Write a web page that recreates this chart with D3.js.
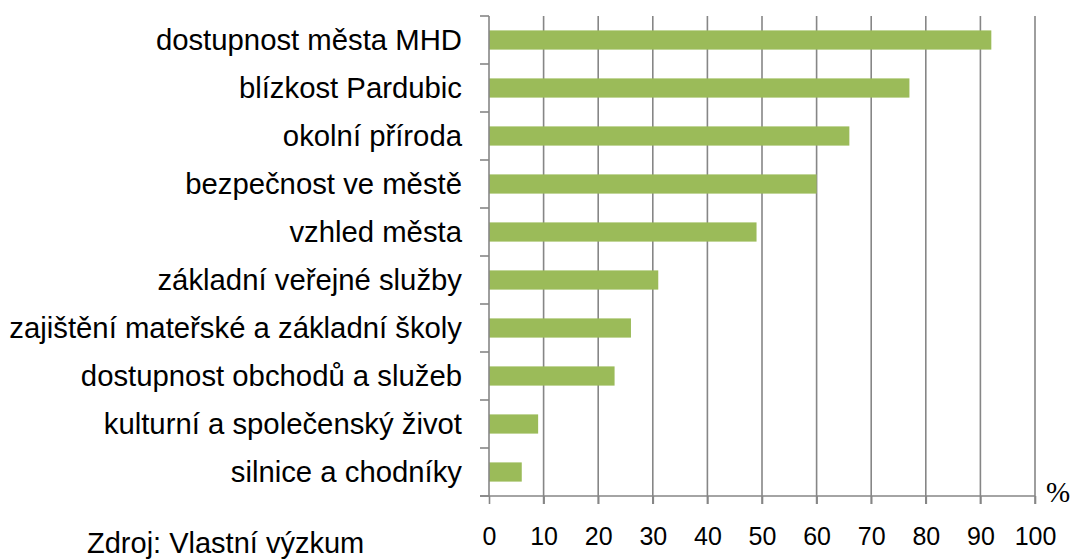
<!DOCTYPE html>
<html>
<head>
<meta charset="utf-8">
<script src="https://cdn.jsdelivr.net/npm/d3@7"></script>
<style>
  body { margin: 0; background: #fff; }
  svg { display: block; }
</style>
</head>
<body>
<div id="chart"></div>
<script>
// Chart data
var categories = [
  "dostupnost města MHD",
  "blízkost Pardubic",
  "okolní příroda",
  "bezpečnost ve městě",
  "vzhled města",
  "základní veřejné služby",
  "zajištění mateřské a základní školy",
  "dostupnost obchodů a služeb",
  "kulturní a společenský život",
  "silnice a chodníky"
];
var values = [92, 77, 66, 60, 49, 31, 26, 23, 9, 6];
var xTicks = [0, 10, 20, 30, 40, 50, 60, 70, 80, 90, 100];

var svgWidth = 1071;
var svgHeight = 559;

var margin = { top: 16, right: 36, bottom: 63, left: 489 };
var chartWidth = svgWidth - margin.left - margin.right;
var chartHeight = svgHeight - margin.top - margin.bottom;

var svg = d3.select("#chart")
  .append("svg")
  .attr("width", svgWidth)
  .attr("height", svgHeight);

var chartGroup = svg.append("g")
  .attr("transform", `translate(${margin.left}, ${margin.top})`);

var xScale = d3.scaleLinear()
  .domain([0, 100])
  .range([0, chartWidth]);

var yScale = d3.scaleBand()
  .domain(categories)
  .range([0, chartHeight])
  .paddingInner(0.6)
  .paddingOuter(0.3);

var axisColor = "#868686";
var sans = "Liberation Sans, Arial, sans-serif";

// vertical gridlines
chartGroup.append("g")
  .selectAll("line")
  .data(xTicks.slice(1))
  .enter()
  .append("line")
  .attr("x1", d => xScale(d))
  .attr("x2", d => xScale(d))
  .attr("y1", 0)
  .attr("y2", chartHeight + 8)
  .attr("stroke", axisColor)
  .attr("stroke-width", 1.6);

// bars
chartGroup.append("g")
  .selectAll("rect")
  .data(values)
  .enter()
  .append("rect")
  .attr("x", 0)
  .attr("y", (d, i) => yScale(categories[i]))
  .attr("width", d => xScale(d))
  .attr("height", yScale.bandwidth())
  .attr("fill", "#9bbb59");

// left axis line and category ticks
var bandStep = chartHeight / categories.length;
var leftAxis = chartGroup.append("g");
leftAxis.append("line")
  .attr("x1", 0).attr("x2", 0)
  .attr("y1", 0).attr("y2", chartHeight)
  .attr("stroke", axisColor)
  .attr("stroke-width", 1.6);
leftAxis.selectAll(".ytick")
  .data(d3.range(categories.length + 1))
  .enter()
  .append("line")
  .attr("class", "ytick")
  .attr("x1", -9).attr("x2", 0)
  .attr("y1", d => d * bandStep)
  .attr("y2", d => d * bandStep)
  .attr("stroke", axisColor)
  .attr("stroke-width", 1.6);

leftAxis.selectAll(".ylabel")
  .data(categories)
  .enter()
  .append("text")
  .attr("class", "ylabel")
  .attr("x", -27)
  .attr("y", d => yScale(d) + yScale.bandwidth() / 2)
  .attr("dy", "0.35em")
  .attr("text-anchor", "end")
  .style("font-family", sans)
  .style("font-size", "29.3px")
  .attr("fill", "#000")
  .text(d => d);

// bottom axis
var bottomAxis = d3.axisBottom(xScale)
  .tickValues(xTicks)
  .tickSize(8)
  .tickPadding(23);

var xAxisGroup = chartGroup.append("g")
  .attr("transform", `translate(0, ${chartHeight})`)
  .call(bottomAxis);

xAxisGroup.select(".domain")
  .attr("d", `M-9,0H${chartWidth}`)
  .attr("stroke", axisColor)
  .attr("stroke-width", 1.6);
xAxisGroup.selectAll(".tick line")
  .attr("stroke", axisColor)
  .attr("stroke-width", 1.6);
xAxisGroup.selectAll(".tick text")
  .style("font-family", sans)
  .style("font-size", "25px")
  .attr("fill", "#000");

// unit label
svg.append("text")
  .attr("x", 1046)
  .attr("y", 502)
  .style("font-family", "Liberation Serif, Times New Roman, serif")
  .style("font-size", "29px")
  .attr("fill", "#000")
  .text("%");

// source note
svg.append("text")
  .attr("x", 87)
  .attr("y", 553)
  .style("font-family", sans)
  .style("font-size", "29px")
  .attr("fill", "#000")
  .text("Zdroj: Vlastní výzkum");
</script>
</body>
</html>
